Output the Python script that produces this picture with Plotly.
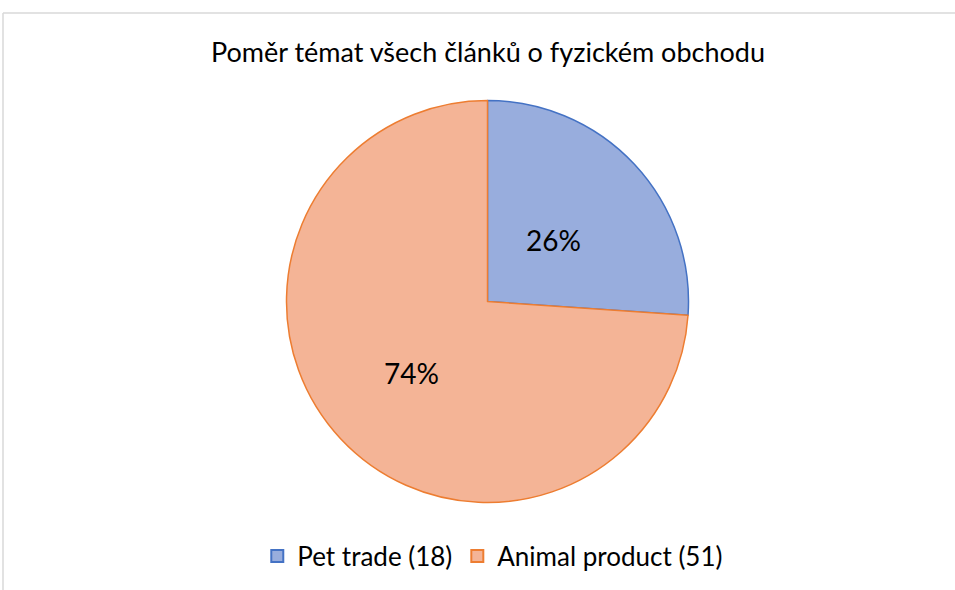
import math
import plotly.graph_objects as go

categories = ["Pet trade", "Animal product"]
counts = [18, 51]
fill_colors = ["#98ADDD", "#F4B496"]
line_colors = ["#4472C4", "#ED7D31"]
title_text = "Poměr témat všech článků o fyzickém obchodu"

labels = [f"{c} ({v})" for c, v in zip(categories, counts)]
total = sum(counts)

W, H = 955, 590
cx, cy, R = 487.5, 301.5, 201
dom_x = [(cx - R) / W, (cx + R) / W]
dom_y = [1 - (cy + R) / H, 1 - (cy - R) / H]

fig = go.Figure(go.Pie(
    labels=labels,
    values=counts,
    sort=False,
    direction="clockwise",
    rotation=0,
    marker=dict(colors=fill_colors, line=dict(color=line_colors, width=1.5)),
    textinfo="none",
    hoverinfo="label+percent",
    domain=dict(x=dom_x, y=dom_y),
))

annotations = []
cum = 0
radial = [0.45, 0.52]
for i, v in enumerate(counts):
    frac = v / total
    mid = cum + frac / 2
    cum += frac
    ang = math.radians(90 - mid * 360)
    px = cx + radial[i] * R * math.cos(ang)
    py = cy - radial[i] * R * math.sin(ang)
    annotations.append(dict(
        x=px / W, y=1 - py / H, xref="paper", yref="paper",
        xanchor="center", yanchor="middle",
        text=f"{round(frac * 100)}%", showarrow=False,
        font=dict(size=28, color="#000000", family="Lato"),
    ))

annotations.append(dict(
    x=cx / W, y=1 - 52 / H, xref="paper", yref="paper",
    xanchor="center", yanchor="middle",
    text=title_text, showarrow=False,
    font=dict(size=27, color="#000000", family="Lato"),
))

fig.update_layout(
    width=W, height=H,
    margin=dict(l=0, r=0, t=0, b=0),
    paper_bgcolor="white",
    plot_bgcolor="white",
    font=dict(family="Lato", color="#000000"),
    annotations=annotations,
    showlegend=True,
    legend=dict(
        orientation="h", x=0.516, xanchor="center", y=1 - 556 / H, yanchor="middle",
        font=dict(size=26, color="#000000", family="Lato"),
        itemsizing="constant", traceorder="normal",
        bgcolor="rgba(0,0,0,0)",
    ),
    shapes=[
        dict(type="line", xref="paper", yref="paper", x0=3 / W, x1=1, y0=1 - 13 / H, y1=1 - 13 / H,
             line=dict(color="#D9D9D9", width=1.5)),
        dict(type="line", xref="paper", yref="paper", x0=3 / W, x1=3 / W, y0=0, y1=1 - 13 / H,
             line=dict(color="#D9D9D9", width=1.5)),
    ],
)

fig.write_html(
    "out.html",
    config={"displayModeBar": False},
    post_script="document.body.style.margin='0';document.body.style.overflow='hidden';",
)
